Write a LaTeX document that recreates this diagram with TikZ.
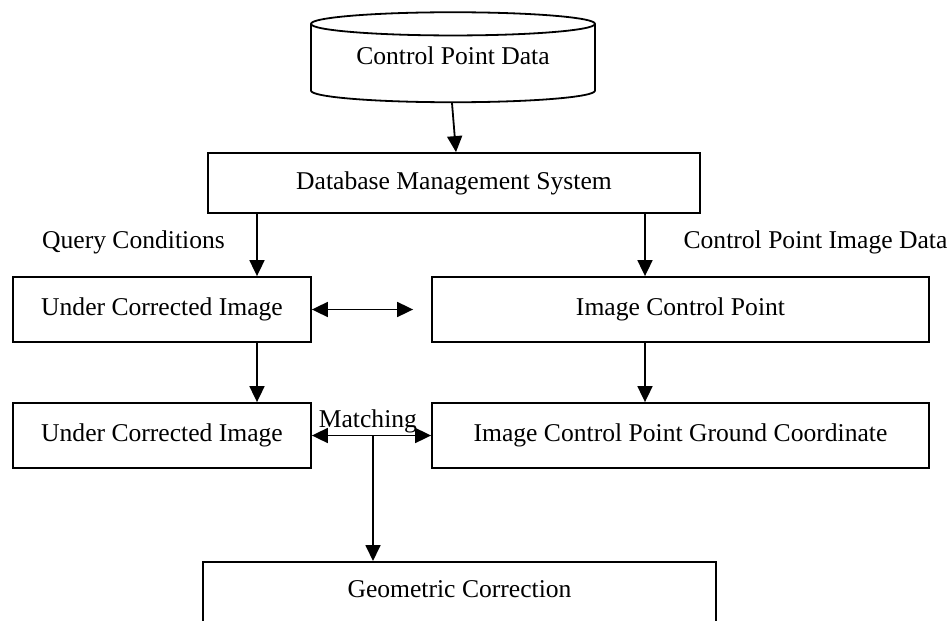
\documentclass[tikz,border=0pt]{standalone}
\usepackage{fontspec}
\setmainfont{Liberation Serif}
\usetikzlibrary{shapes.geometric,arrows.meta}

\begin{document}
\begin{tikzpicture}[x=1pt,y=-1pt,
    font=\fontsize{25.6}{30}\selectfont,
    line width=1.8pt,
    box/.style={shape=rectangle,draw=black,inner sep=0pt},
    store/.style={shape=cylinder,shape border rotate=90,draw=black,aspect=0.12,
      minimum width=284pt,minimum height=90pt,inner sep=0pt,text depth=16pt},
    arr/.style={-{Triangle[length=16pt,width=15pt]}},
    dbl/.style={{Triangle[length=16pt,width=15pt]}-{Triangle[length=16pt,width=15pt]}}]
      \useasboundingbox (0,0) rectangle (951,621);
      \node[store] (cpd) at (453,63.5) {Control Point Data};
      \node[box,minimum width=492pt,minimum height=60pt] (dbms) at (454,183) {Database Management System};
      \node[box,minimum width=298pt,minimum height=65pt] (uci1) at (162,309.5) {Under Corrected Image};
      \node[box,minimum width=497pt,minimum height=65pt] (icp) at (680.5,309.5) {Image Control Point};
      \node[box,minimum width=298pt,minimum height=65pt] (uci2) at (162,435.5) {Under Corrected Image};
      \node[box,minimum width=497pt,minimum height=65pt] (icpgc) at (680.5,435.5) {Image Control Point Ground Coordinate};
      \node[box,anchor=north,minimum width=513pt,inner ysep=6pt,text height=30pt,text depth=80pt] (geo) at (459.5,561) {Geometric Correction};
      \node (qc) at (133.5,242) {Query Conditions};
      \node (cpid) at (815.5,242) {Control Point Image Data};
      \path [arr]([xshift=-1pt]cpd.south) edge ([xshift=2pt]dbms.north) ;
      \path [arr]([xshift=95pt]uci1.north |- dbms.south) edge ([xshift=95pt]uci1.north) ;
      \path [arr]([xshift=-35.5pt]icp.north |- dbms.south) edge ([xshift=-35.5pt]icp.north) ;
      \path [dbl,shorten >=18pt](uci1) edge (icp) ;
      \path [arr]([xshift=95pt]uci1.south) edge ([xshift=95pt]uci2.north) ;
      \path [arr]([xshift=-35.5pt]icp.south) edge ([xshift=-35.5pt]icpgc.north) ;
      \path [dbl](uci2) edge node[pos=0.47,above,inner sep=2pt] (match) {Matching} (icpgc) ;
      \coordinate (split) at ([xshift=-86.5pt]geo.north |- uci2.east);
      \path [arr](split) edge (split |- geo.north) ;

    \end{tikzpicture}
\end{document}
